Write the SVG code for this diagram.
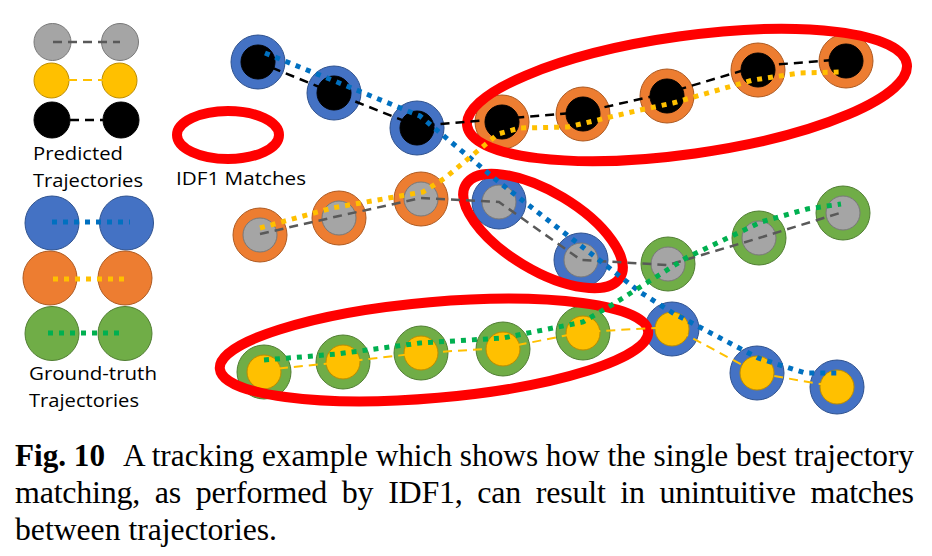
<svg xmlns="http://www.w3.org/2000/svg" width="932" height="556" viewBox="0 0 932 556">
<style>
.bl{fill:#4472C4;stroke:#2F528F;stroke-width:1}
.or{fill:#ED7D31;stroke:#AE5A21;stroke-width:1}
.gr{fill:#70AD47;stroke:#507E32;stroke-width:1}
.gy{fill:#A5A5A5;stroke:#787878;stroke-width:1}
.yl{fill:#FFC000;stroke:#BC8C00;stroke-width:1}
.bk{fill:#000;stroke:#000;stroke-width:1}
.ring{fill:none;stroke:#FF0000;stroke-width:10}
.pd{fill:none;stroke-width:2.5;stroke-dasharray:9 6}
.pk{stroke:#000}
.pg{stroke:#595959}
.py{stroke:#FFC000;stroke-width:2}
.gt{fill:none;stroke-width:5;stroke-dasharray:5 6}
.tb{stroke:#0070C0}
.ty{stroke:#FFC000}
.tg{stroke:#00B050}
.lab{font-family:"Open Sans","Liberation Sans",sans-serif;font-size:19px;fill:#000}
.cap{font-family:"Liberation Serif","Times New Roman",serif;font-size:32px;fill:#000}
</style>

<g id="legend">
  <g id="legend-gray"><circle class="gy" cx="52.5" cy="42" r="18.5"/><circle class="gy" cx="120" cy="42" r="18.5"/></g>
  <g id="legend-yellow"><circle class="yl" cx="51.5" cy="80.5" r="17.5"/><circle class="yl" cx="119.5" cy="80.5" r="17.5"/></g>
  <g id="legend-black"><circle class="bk" cx="52" cy="120" r="18"/><circle class="bk" cx="121" cy="120" r="18"/></g>
  <line class="pd pg" x1="53" y1="42" x2="120" y2="42"/>
  <line class="pd py" x1="68" y1="80" x2="103" y2="80"/>
  <line class="pd pk" x1="70" y1="120" x2="103" y2="120"/>
  <text class="lab" x="33" y="160" textLength="90" lengthAdjust="spacingAndGlyphs">Predicted</text>
  <text class="lab" x="33" y="187" textLength="110" lengthAdjust="spacingAndGlyphs">Trajectories</text>
  <g id="legend-blue"><circle class="bl" cx="52" cy="223" r="27"/><circle class="bl" cx="126.5" cy="223" r="27"/></g>
  <g id="legend-orange"><circle class="or" cx="50" cy="278" r="27"/><circle class="or" cx="125" cy="278" r="27"/></g>
  <g id="legend-green"><circle class="gr" cx="52" cy="333.5" r="27"/><circle class="gr" cx="125" cy="333.5" r="27"/></g>
  <line class="gt tb" x1="52" y1="222" x2="130" y2="222"/>
  <line class="gt ty" x1="53" y1="279" x2="128" y2="279"/>
  <line class="gt tg" x1="48" y1="333" x2="125" y2="333"/>
  <text class="lab" x="29" y="380" textLength="128" lengthAdjust="spacingAndGlyphs">Ground-truth</text>
  <text class="lab" x="29" y="407" textLength="110" lengthAdjust="spacingAndGlyphs">Trajectories</text>
  <g id="legend-match"><ellipse class="ring" cx="228" cy="135" rx="51" ry="24" stroke-width="9"/></g>
  <text class="lab" x="176" y="185" textLength="130" lengthAdjust="spacingAndGlyphs">IDF1 Matches</text>
</g>

<g id="nodes">
  <g id="A1"><circle class="bl" cx="258" cy="62" r="27"/><circle class="bk" cx="258" cy="62" r="17"/></g>
  <g id="A2"><circle class="bl" cx="334" cy="93" r="27"/><circle class="bk" cx="334" cy="93" r="17"/></g>
  <g id="A3"><circle class="bl" cx="417" cy="128" r="27"/><circle class="bk" cx="417" cy="128" r="17"/></g>
  <g id="B1"><circle class="or" cx="502" cy="122" r="27"/><circle class="bk" cx="502" cy="122" r="17"/></g>
  <g id="B2"><circle class="or" cx="583" cy="114" r="27"/><circle class="bk" cx="583" cy="114" r="17"/></g>
  <g id="B3"><circle class="or" cx="667" cy="96" r="27"/><circle class="bk" cx="667" cy="96" r="17"/></g>
  <g id="B4"><circle class="or" cx="758" cy="70" r="27"/><circle class="bk" cx="758" cy="70" r="17"/></g>
  <g id="B5"><circle class="or" cx="846" cy="61" r="27"/><circle class="bk" cx="846" cy="61" r="17"/></g>
  <g id="C1"><circle class="or" cx="260" cy="235" r="27"/><circle class="gy" cx="260" cy="235" r="17"/></g>
  <g id="C2"><circle class="or" cx="339" cy="218" r="27"/><circle class="gy" cx="339" cy="218" r="17"/></g>
  <g id="C3"><circle class="or" cx="421" cy="199" r="27"/><circle class="gy" cx="421" cy="199" r="17"/></g>
  <g id="D1"><circle class="bl" cx="499" cy="202" r="27"/><circle class="gy" cx="499" cy="202" r="17"/></g>
  <g id="D2"><circle class="bl" cx="581" cy="260" r="27"/><circle class="gy" cx="581" cy="260" r="17"/></g>
  <g id="E1"><circle class="gr" cx="668" cy="264" r="27"/><circle class="gy" cx="668" cy="264" r="17"/></g>
  <g id="E2"><circle class="gr" cx="759" cy="238" r="27"/><circle class="gy" cx="759" cy="238" r="17"/></g>
  <g id="E3"><circle class="gr" cx="843" cy="213" r="27"/><circle class="gy" cx="843" cy="213" r="17"/></g>
  <g id="F1"><circle class="bl" cx="672" cy="329" r="27"/><circle class="yl" cx="672" cy="329" r="17"/></g>
  <g id="F2"><circle class="bl" cx="757" cy="373" r="27"/><circle class="yl" cx="757" cy="373" r="17"/></g>
  <g id="F3"><circle class="bl" cx="837" cy="387" r="27"/><circle class="yl" cx="837" cy="387" r="17"/></g>
  <g id="G1"><circle class="gr" cx="264" cy="372" r="27"/><circle class="yl" cx="264" cy="372" r="17"/></g>
  <g id="G2"><circle class="gr" cx="343" cy="362" r="27"/><circle class="yl" cx="343" cy="362" r="17"/></g>
  <g id="G3"><circle class="gr" cx="421" cy="353" r="27"/><circle class="yl" cx="421" cy="353" r="17"/></g>
  <g id="G4"><circle class="gr" cx="503" cy="349" r="27"/><circle class="yl" cx="503" cy="349" r="17"/></g>
  <g id="G5"><circle class="gr" cx="583" cy="333" r="27"/><circle class="yl" cx="583" cy="333" r="17"/></g>
</g>

<g id="matches">
  <ellipse id="match-top" class="ring" cx="687" cy="95" rx="222" ry="59" transform="rotate(-8 687 95)"/>
  <ellipse id="match-mid" class="ring" cx="543" cy="231" rx="90" ry="39" transform="rotate(31 543 231)"/>
  <ellipse id="match-bottom" class="ring" cx="434" cy="350" rx="215" ry="48" transform="rotate(-5 434 350)"/>
</g>

<g id="connectors">
  <polyline class="pd pk" points="258,62 334,93 417,126 502,119 583,112 667,93 758,66 846,59"/>
  <polyline class="pd pg" points="260,234 339,216 421,198 499,202 581,260 668,265 759,238 843,212"/>
  <polyline class="pd py" points="264,370 343,362 421,353 503,348 583,332 672,327 757,373 837,387"/>
  <polyline class="gt tb" points="265,53 332,80 420,116 500,183 580,245 640,292 673,313 758,358 805,373 840,373"/>
  <polyline class="gt ty" points="260,228 332,208 423,192 445,178 498,134 520,128 568,127 640,110 673,103 753,80 800,73 840,72"/>
  <polyline class="gt tg" points="264,360 337,354 420,343 503,338 583,322 615,303 686,258 761,222 807,209 841,204"/>
</g>

<g id="caption">
  <text class="cap" x="15" y="466" font-weight="bold" textLength="90" lengthAdjust="spacingAndGlyphs">Fig. 10</text>
  <text class="cap" x="123" y="466" textLength="791" lengthAdjust="spacingAndGlyphs">A tracking example which shows how the single best trajectory</text>
  <text class="cap" x="15" y="503" word-spacing="7" textLength="899" lengthAdjust="spacing">matching, as performed by IDF1, can result in unintuitive matches</text>
  <text class="cap" x="15" y="540" textLength="262" lengthAdjust="spacingAndGlyphs">between trajectories.</text>
</g>
</svg>
